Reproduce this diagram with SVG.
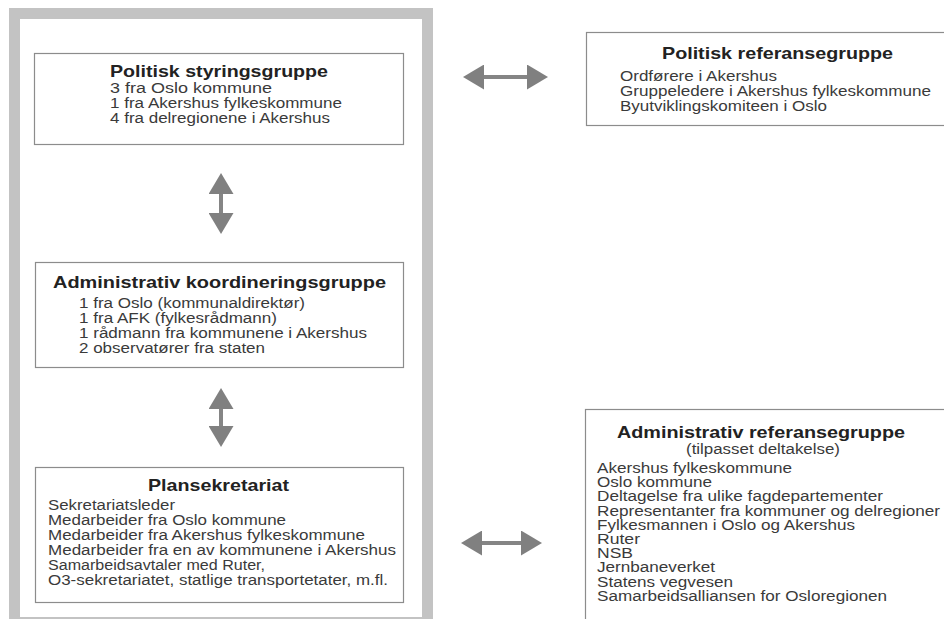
<svg xmlns="http://www.w3.org/2000/svg" width="944" height="619" viewBox="0 0 944 619">
<style>
.box{fill:#ffffff;stroke:#8c8c8c;stroke-width:1.2}
.t{font-family:"Liberation Sans",Arial,sans-serif;font-size:16.5px;font-weight:bold;fill:#222}
.b{font-family:"Liberation Sans",Arial,sans-serif;font-size:14px;fill:#3a3a3a}
.c{stroke:#858585;stroke-width:4;fill:none;marker-start:url(#ah);marker-end:url(#ah)}
</style>
<defs>
<marker id="ah" viewBox="0 0 21 25" refX="6" refY="12.5" markerWidth="21" markerHeight="25" markerUnits="userSpaceOnUse" orient="auto-start-reverse">
<path d="M0,0 L21,12.5 L0,25 z" fill="#808080"/>
</marker>
</defs>
<rect width="944" height="619" fill="#ffffff"/>
<rect x="14.5" y="13.5" width="413" height="609" fill="#ffffff" stroke="#c3c3c3" stroke-width="11"/>

<g id="politisk-styringsgruppe">
<rect class="box" x="34.5" y="53.5" width="369" height="91"/>
<text class="t" x="110" y="77" textLength="218" lengthAdjust="spacingAndGlyphs">Politisk styringsgruppe</text>
<text class="b" x="110" y="93" textLength="162" lengthAdjust="spacingAndGlyphs">3 fra Oslo kommune</text>
<text class="b" x="110" y="108" textLength="232" lengthAdjust="spacingAndGlyphs">1 fra Akershus fylkeskommune</text>
<text class="b" x="110" y="123" textLength="220" lengthAdjust="spacingAndGlyphs">4 fra delregionene i Akershus</text>
</g>

<g id="administrativ-koordineringsgruppe">
<rect class="box" x="35.5" y="262.5" width="368" height="105"/>
<text class="t" x="53" y="288" textLength="333" lengthAdjust="spacingAndGlyphs">Administrativ koordineringsgruppe</text>
<text class="b" x="79" y="308" textLength="226" lengthAdjust="spacingAndGlyphs">1 fra Oslo (kommunaldirektør)</text>
<text class="b" x="79" y="323" textLength="198" lengthAdjust="spacingAndGlyphs">1 fra AFK (fylkesrådmann)</text>
<text class="b" x="79" y="338" textLength="288" lengthAdjust="spacingAndGlyphs">1 rådmann fra kommunene i Akershus</text>
<text class="b" x="79" y="353" textLength="186" lengthAdjust="spacingAndGlyphs">2 observatører fra staten</text>
</g>

<g id="plansekretariat">
<rect class="box" x="35.5" y="467.5" width="368" height="135"/>
<text class="t" x="148" y="491" textLength="141" lengthAdjust="spacingAndGlyphs">Plansekretariat</text>
<text class="b" x="48" y="510" textLength="127" lengthAdjust="spacingAndGlyphs">Sekretariatsleder</text>
<text class="b" x="48" y="525" textLength="238" lengthAdjust="spacingAndGlyphs">Medarbeider fra Oslo kommune</text>
<text class="b" x="48" y="540" textLength="317" lengthAdjust="spacingAndGlyphs">Medarbeider fra Akershus fylkeskommune</text>
<text class="b" x="48" y="555" textLength="348" lengthAdjust="spacingAndGlyphs">Medarbeider fra en av kommunene i Akershus</text>
<text class="b" x="48" y="570" textLength="217" lengthAdjust="spacingAndGlyphs">Samarbeidsavtaler med Ruter,</text>
<text class="b" x="48" y="585" textLength="340" lengthAdjust="spacingAndGlyphs">O3-sekretariatet, statlige transportetater, m.fl.</text>
</g>

<g id="politisk-referansegruppe">
<rect class="box" x="586.5" y="32.5" width="370" height="93"/>
<text class="t" x="662" y="59" textLength="231" lengthAdjust="spacingAndGlyphs">Politisk referansegruppe</text>
<text class="b" x="620" y="81" textLength="157" lengthAdjust="spacingAndGlyphs">Ordførere i Akershus</text>
<text class="b" x="620" y="96" textLength="311" lengthAdjust="spacingAndGlyphs">Gruppeledere i Akershus fylkeskommune</text>
<text class="b" x="620" y="111" textLength="207" lengthAdjust="spacingAndGlyphs">Byutviklingskomiteen i Oslo</text>
</g>

<g id="administrativ-referansegruppe">
<rect class="box" x="585.5" y="409.5" width="370" height="230"/>
<text class="t" x="617" y="438" textLength="288" lengthAdjust="spacingAndGlyphs">Administrativ referansegruppe</text>
<text class="b" x="686" y="454" textLength="154" lengthAdjust="spacingAndGlyphs">(tilpasset deltakelse)</text>
<text class="b" x="597" y="473" textLength="195" lengthAdjust="spacingAndGlyphs">Akershus fylkeskommune</text>
<text class="b" x="597" y="487.2" textLength="115" lengthAdjust="spacingAndGlyphs">Oslo kommune</text>
<text class="b" x="597" y="501.4" textLength="286" lengthAdjust="spacingAndGlyphs">Deltagelse fra ulike fagdepartementer</text>
<text class="b" x="597" y="515.6" textLength="343" lengthAdjust="spacingAndGlyphs">Representanter fra kommuner og delregioner</text>
<text class="b" x="597" y="529.8" textLength="258" lengthAdjust="spacingAndGlyphs">Fylkesmannen i Oslo og Akershus</text>
<text class="b" x="597" y="544" textLength="43" lengthAdjust="spacingAndGlyphs">Ruter</text>
<text class="b" x="597" y="558.2" textLength="36" lengthAdjust="spacingAndGlyphs">NSB</text>
<text class="b" x="597" y="572.4" textLength="118" lengthAdjust="spacingAndGlyphs">Jernbaneverket</text>
<text class="b" x="597" y="586.6" textLength="136" lengthAdjust="spacingAndGlyphs">Statens vegvesen</text>
<text class="b" x="597" y="600.8" textLength="290" lengthAdjust="spacingAndGlyphs">Samarbeidsalliansen for Osloregionen</text>
</g>

<g id="connectors">
<line class="c" x1="221" y1="188" x2="221" y2="219"/>
<line class="c" x1="221" y1="403" x2="221" y2="432"/>
<line class="c" x1="478" y1="77" x2="533" y2="77"/>
<line class="c" x1="476" y1="543" x2="527" y2="543"/>
</g>
</svg>
